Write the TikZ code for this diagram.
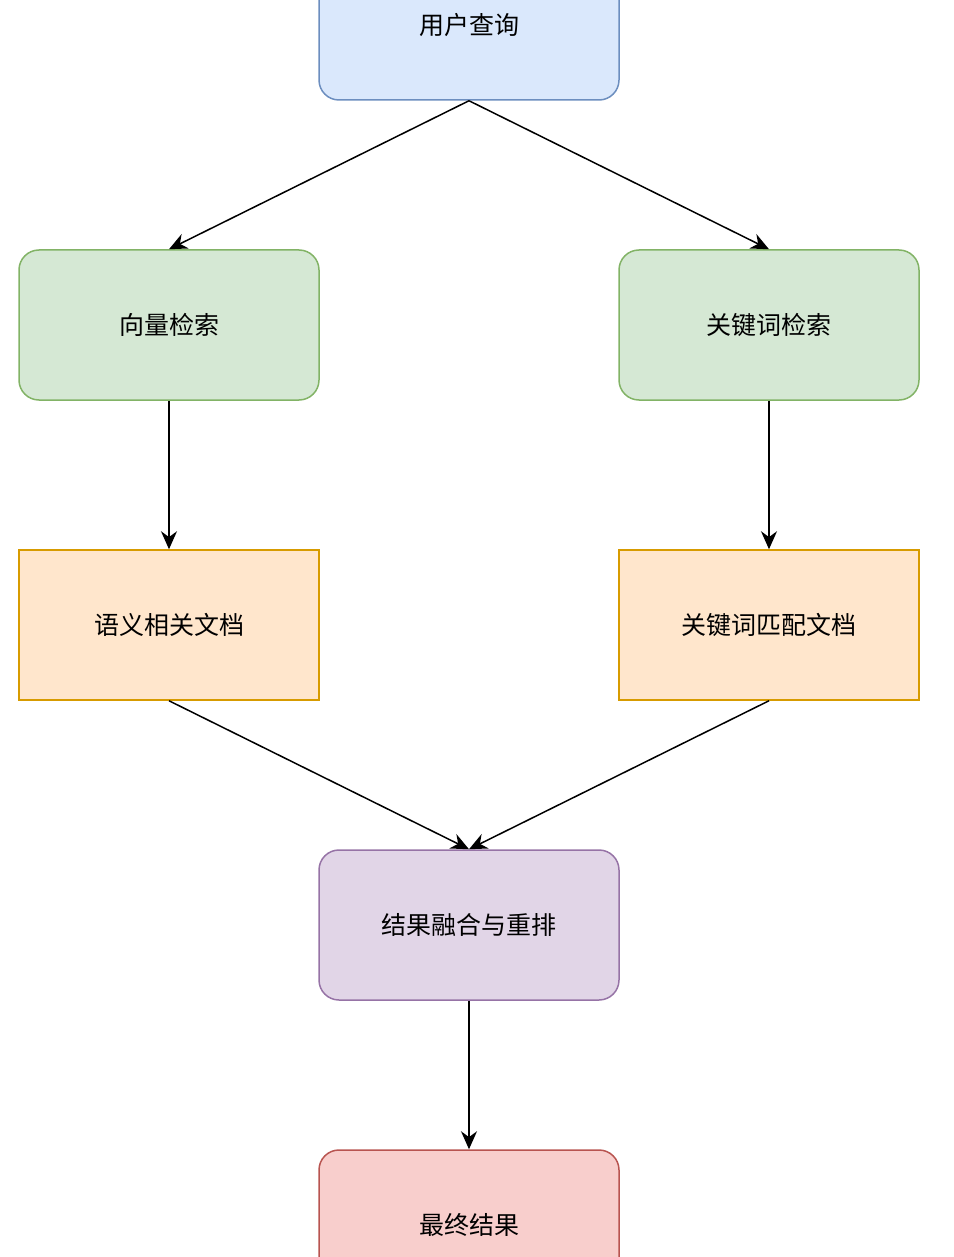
\documentclass[tikz,border=0pt]{standalone}
\usepackage{fontspec}
\setmainfont{Noto Sans CJK SC}
\usetikzlibrary{arrows.meta}
\definecolor{bF}{HTML}{DAE8FC}\definecolor{bD}{HTML}{6C8EBF}
\definecolor{gF}{HTML}{D5E8D4}\definecolor{gD}{HTML}{82B366}
\definecolor{oF}{HTML}{FFE6CC}\definecolor{oD}{HTML}{D79B00}
\definecolor{pF}{HTML}{E1D5E7}\definecolor{pD}{HTML}{9673A6}
\definecolor{rF}{HTML}{F8CECC}\definecolor{rD}{HTML}{B85450}
\begin{document}
\begin{tikzpicture}[x=1pt,y=-1pt,
  box/.style={draw=#1D,fill=#1F,line width=1.5pt,minimum width=300pt,minimum height=150pt,inner sep=0pt,font=\fontsize{25}{30}\selectfont},
  rbox/.style={box=#1,rounded corners=20pt},
  arr/.style={-{Stealth[length=18pt,width=16pt]},line width=1.5pt}]
\useasboundingbox (0,0) rectangle (953,1257);
\clip (0,0) rectangle (953,1257);
\node[rbox=b] (q) at (469,25) {用户查询};
\node[rbox=g] (v) at (169,325) {向量检索};
\node[rbox=g] (k) at (769,325) {关键词检索};
\node[box=o] (s) at (169,625) {语义相关文档};
\node[box=o] (m) at (769,625) {关键词匹配文档};
\node[rbox=p] (f) at (469,925) {结果融合与重排};
\node[rbox=r] (r) at (469,1225) {最终结果};
\draw[arr] (q.south) -- (v.north);
\draw[arr] (q.south) -- (k.north);
\draw[arr] (v.south) -- (s.north);
\draw[arr] (k.south) -- (m.north);
\draw[arr] (s.south) -- (f.north);
\draw[arr] (m.south) -- (f.north);
\draw[arr] (f.south) -- (r.north);
\end{tikzpicture}
\end{document}
